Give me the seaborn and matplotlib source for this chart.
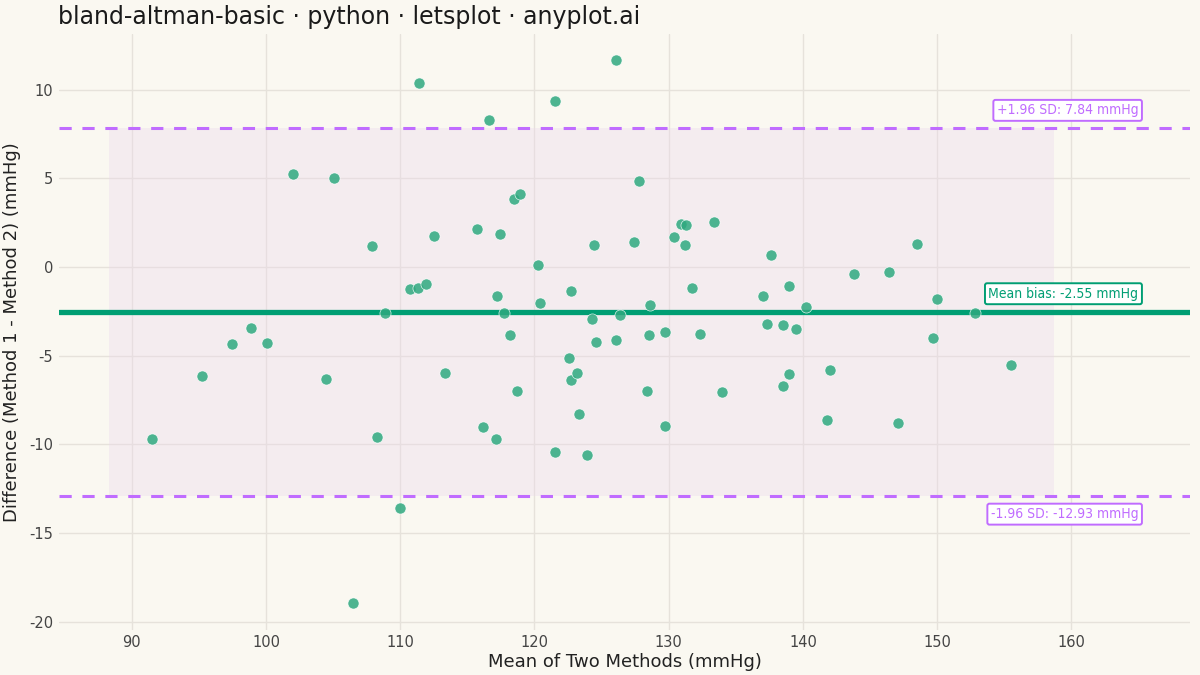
import numpy as np
import pandas as pd
import seaborn as sns
import matplotlib.pyplot as plt

# mean of the two methods (mmHg)
mean_vals = [91.5, 95.2, 97.5, 98.9, 100.1, 102.0, 104.5, 105.1, 107.9, 108.3,
             108.9, 106.5, 110.0, 110.7, 111.3, 111.4, 111.9, 112.5, 113.3, 115.7,
             116.2, 116.6, 117.1, 117.2, 117.4, 117.7, 118.2, 118.5, 118.7, 118.9,
             120.3, 120.4, 121.5, 121.5, 122.6, 122.7, 122.7, 123.2, 123.3, 123.9,
             124.3, 124.4, 124.6, 126.1, 126.1, 126.4, 127.4, 127.8, 128.4, 128.5,
             128.6, 129.7, 129.7, 130.4, 130.9, 131.3, 131.2, 131.7, 132.3, 133.4,
             134.0, 137.0, 137.3, 137.6, 138.5, 138.5, 139.0, 139.0, 139.5, 140.2,
             141.8, 142.0, 143.8, 146.4, 147.1, 148.5, 149.7, 150.0, 152.8, 155.5]
# difference method 1 - method 2 (mmHg)
diff_vals = [-9.68, -6.13, -4.32, -3.42, -4.27, 5.26, -6.30, 5.04, 1.20, -9.57,
             -2.58, -18.93, -13.57, -1.24, -1.18, 10.39, -0.96, 1.75, -5.96, 2.14,
             -9.00, 8.31, -9.68, -1.62, 1.86, -2.58, -3.82, 3.85, -6.97, 4.14,
             0.11, -2.00, 9.38, -10.41, -5.11, -1.35, -6.35, -5.96, -8.27, -10.58,
             -2.91, 1.24, -4.21, 11.69, -4.10, -2.69, 1.41, 4.87, -6.97, -3.82,
             -2.13, -8.95, -3.65, 1.69, 2.43, 2.37, 1.24, -1.18, -3.76, 2.54,
             -7.03, -1.62, -3.20, 0.68, -3.25, -6.69, -1.07, -6.02, -3.48, -2.24,
             -8.61, -5.79, -0.39, -0.28, -8.78, 1.30, -3.99, -1.80, -2.58, -5.51]

mean_bias = -2.55
upper_loa = 7.84
lower_loa = -12.93

df = pd.DataFrame({"mean": mean_vals, "diff": diff_vals})

bg = "#FAF8F1"
sns.set_theme(style="whitegrid", rc={
    "figure.facecolor": bg,
    "axes.facecolor": bg,
    "grid.color": "#E6E2DB",
    "grid.linewidth": 1.0,
    "axes.edgecolor": bg,
    "axes.unicode_minus": False,
})
plt.rcParams['font.family'] = ['DejaVu Sans']

fig, ax = plt.subplots(figsize=(12, 6.75), dpi=100)
fig.subplots_adjust(left=0.049, right=0.992, top=0.95, bottom=0.067)

# shaded agreement band spanning data range plus a bit
span = max(mean_vals) - min(mean_vals)
x0 = min(mean_vals) - 0.05 * span
x1 = max(mean_vals) + 0.05 * span
ax.fill_between([x0, x1], lower_loa, upper_loa, color="#EBD8EC", alpha=0.35,
                linewidth=0, zorder=1)

purple = "#C06CFF"
green = "#009E73"
ax.axhline(upper_loa, color=purple, lw=2.2, ls=(0, (4, 3.5)), zorder=2)
ax.axhline(lower_loa, color=purple, lw=2.2, ls=(0, (4, 3.5)), zorder=2)
ax.axhline(mean_bias, color=green, lw=3.8, zorder=2)

sns.scatterplot(data=df, x="mean", y="diff", ax=ax, color="#2FA97F", alpha=0.85,
                s=64, edgecolor="white", linewidth=0.5, zorder=3)

lab_x = 165.0
box = dict(boxstyle="round,pad=0.25,rounding_size=0.15", fc="white", lw=1.4)
lab_kw = dict(ha="right", va="center", fontsize=10, fontstretch="condensed", zorder=4)
ax.text(lab_x, upper_loa + 1.0, f"+1.96 SD: {upper_loa:.2f} mmHg", color=purple,
        bbox=dict(box, ec=purple), **lab_kw)
ax.text(lab_x, mean_bias + 1.05, f"Mean bias: {mean_bias:.2f} mmHg", color=green,
        bbox=dict(box, ec=green), **lab_kw)
ax.text(lab_x, lower_loa - 1.0, f"-1.96 SD: {lower_loa:.2f} mmHg", color=purple,
        bbox=dict(box, ec=purple), **lab_kw)

ax.set_xlim(84.56, 168.87)
ax.set_ylim(-20.45, 13.16)
ax.set_xticks([90, 100, 110, 120, 130, 140, 150, 160])
ax.set_yticks([-20, -15, -10, -5, 0, 5, 10])
ax.tick_params(axis="both", labelsize=10.5, colors="#444444", length=0, pad=4)
for s in ax.spines.values():
    s.set_visible(False)

ax.set_xlabel("Mean of Two Methods (mmHg)", fontsize=13, color="#222222", labelpad=2)
ax.set_ylabel("Difference (Method 1 - Method 2) (mmHg)", fontsize=13, color="#222222",
              labelpad=6)
fig.text(0.048, 0.975, "bland-altman-basic · python · letsplot · anyplot.ai",
         fontsize=17, color="#1A1A1A", ha="left", va="center")

fig.savefig("out.png", dpi=100, facecolor=bg)
